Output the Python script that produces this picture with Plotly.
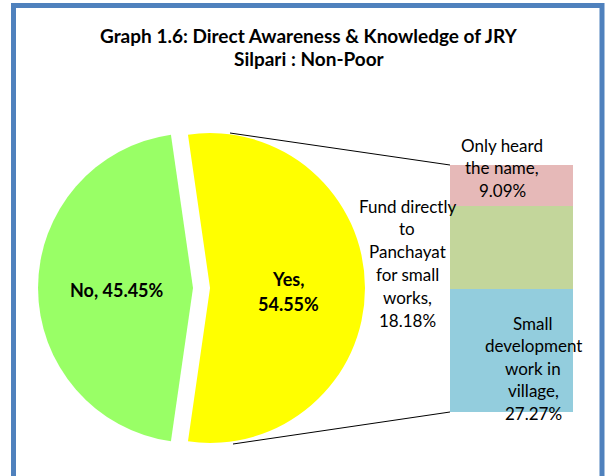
import plotly.graph_objects as go

# ---- data ----
title_lines = ["Graph 1.6: Direct Awareness & Knowledge of JRY", "Silpari : Non-Poor"]
pie_labels = ["Yes", "No"]
pie_values = [54.55, 45.45]
pie_colors = ["#FFFF00", "#99FF66"]

bar_labels = ["Small development work in village", "Fund directly to Panchayat for small works", "Only heard the name"]
bar_values = [27.27, 18.18, 9.09]
bar_colors = ["#93CDDD", "#C3D69B", "#E6B9B8"]

W, H = 608, 476
FONT = "Lato"

def px(x):
    return x / W

def py(y):
    return 1 - y / H

fig = go.Figure()

# pie
total = sum(pie_values)
yes_share = pie_values[0] / total
rotation = 90 - 360 * yes_share / 2
fig.add_trace(go.Pie(
    labels=pie_labels, values=pie_values, sort=False, direction="clockwise",
    rotation=rotation, pull=[0.11, 0], marker=dict(colors=pie_colors, line=dict(width=0)),
    textinfo="none", hoverinfo="label+percent", showlegend=False,
    domain=dict(x=[px(21), px(365)], y=[py(460), py(116)]),
))

# stacked bar
for lab, val, col in zip(bar_labels, bar_values, bar_colors):
    fig.add_trace(go.Bar(x=[0], y=[val], name=lab, marker=dict(color=col, line=dict(width=0)),
                         width=1, showlegend=False, xaxis="x", yaxis="y"))

annotations = []
def add_lines(lines, cx, y0, step, size, bold=False):
    for i, t in enumerate(lines):
        annotations.append(dict(
            x=px(cx), y=py(y0 + i * step), xref="paper", yref="paper",
            text=f"<b>{t}</b>" if bold else t, showarrow=False,
            xanchor="center", yanchor="middle",
            font=dict(family=FONT, size=size, color="#000000"),
        ))

# title
add_lines(title_lines, 309, 36, 22, 19, bold=True)

# pie labels
add_lines([f"{pie_labels[1]}, {pie_values[1]:.2f}%"], 117, 290, 0, 18, bold=True)
add_lines([f"{pie_labels[0]},", f"{pie_values[0]:.2f}%"], 288, 279, 25, 18, bold=True)

# bar labels
add_lines(["Only heard", "the name,", f"{bar_values[2]:.2f}%"], 502, 145, 22.5, 17)
add_lines(["Fund directly", "to", "Panchayat", "for small", "works,", f"{bar_values[1]:.2f}%"], 407, 206, 22.8, 17)
add_lines(["Small", "development", "work in", "village,", f"{bar_values[0]:.2f}%"], 533, 323, 22.5, 17)

shapes = [
    # connector lines
    dict(type="line", xref="paper", yref="paper", x0=px(230), y0=py(133), x1=px(450), y1=py(165),
         line=dict(color="#000000", width=1)),
    dict(type="line", xref="paper", yref="paper", x0=px(233), y0=py(444), x1=px(450), y1=py(412),
         line=dict(color="#000000", width=1)),
    # frame
    dict(type="rect", xref="paper", yref="paper", x0=px(13.5), y0=-0.05, x1=px(602), y1=py(5.5),
         line=dict(color="#4F81BD", width=5)),
]

fig.update_layout(
    width=W, height=H, margin=dict(l=0, r=0, t=0, b=0),
    paper_bgcolor="#FFFFFF", plot_bgcolor="rgba(0,0,0,0)",
    barmode="stack", bargap=0,
    xaxis=dict(domain=[px(450), px(573)], range=[-0.5, 0.5], visible=False, fixedrange=True),
    yaxis=dict(domain=[py(412), py(165)], range=[0, sum(bar_values)], visible=False, fixedrange=True),
    annotations=annotations, shapes=shapes, showlegend=False,
)

fig.write_html("out.html", config={"displayModeBar": False},
               post_script="document.body.style.margin='0';document.body.style.overflow='hidden';")
